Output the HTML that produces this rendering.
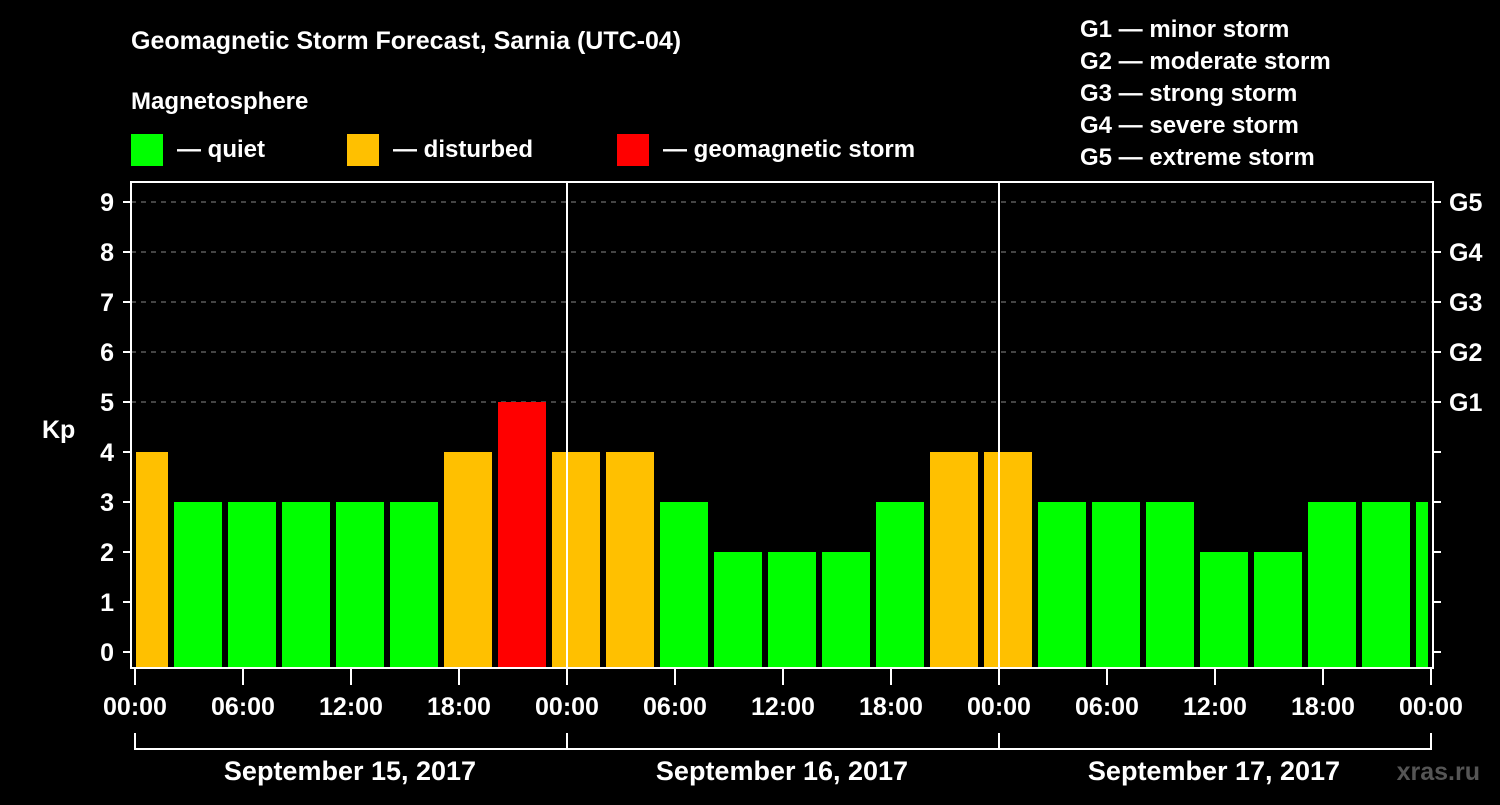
<!DOCTYPE html>
<html><head><meta charset="utf-8"><style>
body{margin:0;background:#000;width:1500px;height:800px;overflow:hidden}
svg text{font-family:"Liberation Sans",Arial,sans-serif;font-weight:bold;fill:#fff}
</style></head><body>
<svg id="c" width="1500" height="800">
<text x="131" y="49" font-size="25">Geomagnetic Storm Forecast, Sarnia (UTC-04)</text>
<text x="131" y="109" font-size="24">Magnetosphere</text>
<g><rect x="131" y="134" width="32" height="32" fill="#00ff00"/><text x="177" y="157" font-size="24">— quiet</text></g>
<g><rect x="347" y="134" width="32" height="32" fill="#ffc000"/><text x="393" y="157" font-size="24">— disturbed</text></g>
<g><rect x="617" y="134" width="32" height="32" fill="#ff0000"/><text x="663" y="157" font-size="24">— geomagnetic storm</text></g>
<g font-size="24">
<text x="1080" y="37">G1 — minor storm</text><text x="1080" y="69">G2 — moderate storm</text><text x="1080" y="101">G3 — strong storm</text><text x="1080" y="133">G4 — severe storm</text><text x="1080" y="165">G5 — extreme storm</text></g>
<text x="42" y="438" font-size="25">Kp</text>
<g id="grid"></g><g id="bars"></g><g id="axes"></g>
<text x="350" y="780" font-size="27" text-anchor="middle">September 15, 2017</text>
<text x="782" y="780" font-size="27" text-anchor="middle">September 16, 2017</text>
<text x="1214" y="780" font-size="27" text-anchor="middle">September 17, 2017</text>
<text x="1480" y="780" font-size="25" text-anchor="end" style="fill:#555">xras.ru</text>
</svg>
<script>
const kpValues=[4,3,3,3,3,3,4,5,4,4,3,2,2,2,3,4,4,3,3,3,2,2,3,3,3];
const yTicks=[0,1,2,3,4,5,6,7,8,9];
const gLabels=["G1","G2","G3","G4","G5"];
const xTickLabels=["00:00","06:00","12:00","18:00","00:00","06:00","12:00","18:00","00:00","06:00","12:00","18:00","00:00"];
const NS="http://www.w3.org/2000/svg";
const X0=135,HOUR=18,L=131,R=1433,T=182,B=668;
function y(v){return 652-50*v}
function x(h){return X0+HOUR*h}
function mk(tag,a,parent){const e=document.createElementNS(NS,tag);for(const k in a)e.setAttribute(k,a[k]);document.getElementById(parent).appendChild(e);return e}
yTicks.forEach(v=>{
 if(v>=5){const g=mk('line',{x1:L,x2:R,y1:y(v),y2:y(v),stroke:'#888','stroke-width':1,'stroke-dasharray':'5,5'},'grid');
 
 }
});
kpValues.forEach((v,i)=>{
 let x1=x(3*i)-15,x2=x1+48;x1=Math.max(x1,136);x2=Math.min(x2,1428);
 const c=v>=5?'#ff0000':v>=4?'#ffc000':'#00ff00';
 const r=mk('rect',{x:x1,y:y(v),width:x2-x1,height:B-y(v),fill:c},'bars');
 
 
});
const ax='axes';
mk('rect',{x:L,y:T,width:R-L,height:B-T,fill:'none',stroke:'#fff','stroke-width':2},ax);
[1,2].forEach(d=>mk('line',{x1:x(24*d),x2:x(24*d),y1:T,y2:B,stroke:'#fff','stroke-width':2},ax));
yTicks.forEach(v=>{
 mk('line',{x1:123,x2:L,y1:y(v),y2:y(v),stroke:'#fff','stroke-width':2},ax);
 mk('line',{x1:R,x2:1441,y1:y(v),y2:y(v),stroke:'#fff','stroke-width':2},ax);
 const t=mk('text',{x:114,y:y(v)+9,'font-size':25,'text-anchor':'end'},ax);t.textContent=v;
 
 
});
gLabels.forEach((g,i)=>{const t=mk('text',{x:1449,y:y(5+i)+9,'font-size':25},ax);t.textContent=g;
 
 });
xTickLabels.forEach((l,i)=>{
 const xx=x(6*i);
 mk('line',{x1:xx,x2:xx,y1:B,y2:685,stroke:'#fff','stroke-width':2},ax);
 const t=mk('text',{x:xx,y:715,'font-size':25,'text-anchor':'middle'},ax);t.textContent=l;
 
 
});
mk('line',{x1:x(0),x2:x(72),y1:749,y2:749,stroke:'#fff','stroke-width':2},ax);
[0,1,2,3].forEach(d=>mk('line',{x1:x(24*d),x2:x(24*d),y1:733,y2:750,stroke:'#fff','stroke-width':2},ax));
</script>
</body></html>
